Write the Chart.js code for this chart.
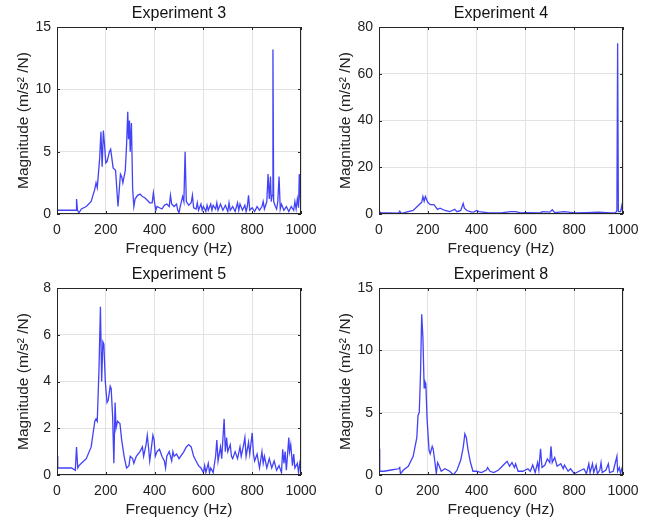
<!DOCTYPE html>
<html>
<head>
<meta charset="utf-8">
<script src="https://cdn.jsdelivr.net/npm/chart.js@4.4.0/dist/chart.umd.min.js"></script>
<style>
  body { margin: 0; background: #fff; }
  .panel { position: absolute; width: 325px; height: 258px; }
</style>
</head>
<body>
<div class="panel" style="left:0;top:0"><canvas id="c3"></canvas></div>
<div class="panel" style="left:322px;top:0"><canvas id="c4"></canvas></div>
<div class="panel" style="left:0;top:261px"><canvas id="c5"></canvas></div>
<div class="panel" style="left:322px;top:261px"><canvas id="c8"></canvas></div>
<script>
// Experiment 3
const freq3 = [0,5,40,78,80,84,90,100,120,140,155,160,165,175,180,185,190,195,200,205,215,220,230,240,250,260,265,270,280,285,290,293,297,300,305,310,315,320,330,340,350,360,370,380,390,395,400,405,410,420,430,440,450,460,465,470,480,490,495,500,505,510,515,520,525,530,540,550,555,560,570,575,580,590,595,600,610,615,620,630,635,640,650,655,660,670,680,690,700,705,710,720,730,740,745,750,760,770,775,780,785,790,800,810,820,830,840,845,850,860,865,870,875,878,882,885,888,895,900,905,910,915,920,930,940,950,960,970,975,980,985,990,993,996,1000];
const mag3 = [0.4,0.3,0.3,0.3,1.2,0.3,0.1,0.4,0.6,1.0,2.0,2.5,2.1,4.5,6.6,3.8,6.7,5.5,4.1,4.2,5.0,5.2,3.7,3.5,0.6,3.2,3.0,2.5,3.5,5.5,8.2,6.0,7.5,5.0,7.3,2.0,0.6,1.2,1.5,1.6,1.4,1.3,1.1,0.9,0.9,1.7,0.9,0.3,0.6,0.5,0.4,0.7,0.8,0.6,1.5,0.8,0.6,0.8,0.3,0.1,0.6,1.0,1.4,1.0,5.0,1.0,0.7,0.9,1.5,0.5,0.4,0.9,0.3,0.8,0.3,0.6,0.2,0.7,0.3,0.8,0.3,0.7,0.4,0.9,0.3,0.8,0.3,0.7,0.2,0.9,0.3,0.6,0.2,0.9,0.3,0.8,0.3,0.7,0.2,0.6,1.5,0.3,0.5,0.2,0.6,0.3,0.6,1.0,0.4,1.0,3.2,1.2,3.0,1.0,1.5,13.2,1.0,0.6,0.4,1.0,3.0,0.4,0.8,0.3,0.6,0.2,0.6,0.3,1.0,0.4,1.2,0.5,3.2,1.5,0.4];

// Experiment 4
const freq4 = [0,10,40,80,85,90,100,140,160,175,180,185,190,200,210,225,240,250,270,290,300,310,320,335,345,350,360,380,390,400,410,450,500,540,560,580,600,660,670,700,710,720,760,800,850,900,950,970,975,978,981,990,995,1000];
const mag4 = [1.0,0.5,0.5,0.4,1.2,0.4,0.5,1.5,3.5,5.0,7.5,5.5,7.5,5.0,4.0,4.0,2.0,2.5,1.5,1.0,1.5,2.0,1.0,1.5,4.5,2.5,1.5,0.8,0.9,1.5,1.0,0.5,0.5,1.0,1.0,0.5,0.6,0.5,1.0,0.8,1.8,0.6,1.0,0.5,0.6,0.8,0.5,0.6,1.5,73,1.0,1.0,3.5,0.5];

// Experiment 5
const freq5 = [0,3,20,60,75,80,85,90,100,120,140,155,160,165,172,178,183,188,192,198,205,210,218,222,228,233,238,242,248,258,265,275,285,295,300,310,315,325,340,350,355,365,370,375,380,385,393,398,403,410,420,430,440,445,450,460,470,475,480,490,500,520,530,540,550,560,570,580,590,600,605,610,620,625,630,640,650,655,660,670,675,685,690,695,700,710,715,720,730,740,750,755,765,770,775,785,790,800,805,810,820,830,840,845,850,860,870,880,890,900,910,920,925,930,935,940,950,953,958,965,970,975,985,990,995,1000];
const mag5 = [0.8,0.3,0.3,0.3,0.2,1.2,0.3,0.4,0.5,0.7,1.2,2.3,2.4,2.3,4.5,7.2,4.0,5.7,5.6,4.0,3.1,3.2,3.8,3.7,2.5,0.5,3.1,2.0,2.3,2.2,1.5,0.8,0.3,0.4,0.8,0.7,0.5,0.8,1.0,1.2,0.8,1.3,1.7,1.2,0.6,1.0,1.7,1.5,0.8,1.0,1.1,0.8,0.6,0.3,0.8,1.0,0.6,1.0,0.8,0.9,0.7,1.0,1.2,1.3,1.2,0.8,0.6,0.4,0.3,0.1,0.4,0.1,0.5,0.1,0.3,0.1,0.8,1.5,0.6,1.2,0.7,2.4,1.0,1.6,1.0,1.3,0.8,0.7,1.0,0.7,1.2,0.8,1.3,1.6,0.8,1.4,0.9,1.8,0.9,0.6,0.9,0.3,1.0,0.5,0.8,0.3,0.7,0.3,0.6,0.2,0.4,0.1,1.1,0.5,1.0,0.2,1.6,1.0,1.3,0.4,0.9,0.3,0.5,0.1,0.5,0.2];

// Experiment 8
const freq8 = [0,3,20,50,80,85,88,100,120,140,155,160,165,170,175,180,185,188,192,197,205,210,218,222,228,235,240,245,255,270,290,305,320,335,345,352,358,365,375,385,400,420,440,445,455,470,490,510,525,535,545,555,560,570,590,610,620,630,640,650,655,662,668,680,690,700,705,710,720,730,745,755,760,775,785,800,820,840,850,860,865,875,880,890,895,905,910,915,930,940,945,960,975,978,985,990,995,1000];
const mag8 = [2.1,0.3,0.3,0.4,0.5,0.6,0.1,0.4,0.7,1.5,3.0,4.8,5.0,8.0,12.9,11.0,7.0,7.5,7.3,4.5,2.0,1.7,2.3,2.1,1.2,0.1,1.0,0.8,0.3,0.5,0.3,0.0,0.4,1.2,2.2,3.3,3.0,2.0,1.0,0.3,0.3,0.2,0.4,0.6,0.3,0.2,0.4,0.8,1.1,0.7,1.0,0.6,0.9,0.3,0.3,0.5,0.3,0.8,0.2,1.0,0.4,2.1,0.6,0.8,1.3,1.0,2.3,1.0,1.4,0.7,0.9,0.5,0.8,0.3,0.5,0.1,0.3,0.5,0.1,0.9,0.2,0.9,0.2,0.8,0.1,0.4,1.0,0.2,0.4,0.9,0.2,0.3,1.5,0.3,0.6,0.1,0.5,0.2];

const xTicks = [0, 200, 400, 600, 800, 1000];
const font = "'Liberation Sans', Arial, sans-serif";

// MATLAB-like box, inward ticks and a title centred over the plot area
const boxPlugin = {
  id: 'box',
  afterDraw(chart, args, opts) {
    const a = chart.chartArea, c = chart.ctx;
    c.save();
    c.strokeStyle = '#262626';
    c.lineWidth = 1;
    c.strokeRect(a.left + 0.5, a.top + 0.5, a.right - a.left - 1, a.bottom - a.top - 1);
    c.beginPath();
    const xs = chart.scales.x, ys = chart.scales.y;
    xs.ticks.forEach(t => {
      const px = Math.round(xs.getPixelForValue(t.value)) + 0.5;
      c.moveTo(px, a.bottom); c.lineTo(px, a.bottom - 3);
      c.moveTo(px, a.top); c.lineTo(px, a.top + 3);
    });
    ys.ticks.forEach(t => {
      const py = Math.round(ys.getPixelForValue(t.value)) + 0.5;
      c.moveTo(a.left, py); c.lineTo(a.left + 3, py);
      c.moveTo(a.right, py); c.lineTo(a.right - 3, py);
    });
    c.stroke();
    c.fillStyle = '#111';
    c.font = '16px ' + font;
    c.textAlign = 'center';
    c.textBaseline = 'middle';
    c.fillText(opts.text, (a.left + a.right) / 2, 14);
    c.restore();
  }
};

function makeChart(id, title, freq, mag, yMax, yStep) {
  const pts = freq.map((f, i) => ({ x: f, y: mag[i] }));
  new Chart(document.getElementById(id), {
    type: 'scatter',
    data: {
      datasets: [{
        data: pts,
        showLine: true,
        borderColor: 'rgba(45,45,245,0.9)',
        borderWidth: 1.3,
        pointRadius: 0,
        tension: 0
      }]
    },
    options: {
      responsive: true,
      maintainAspectRatio: false,
      animation: false,
      layout: { padding: { left: 14, right: 24, top: 27, bottom: 0 } },
      plugins: {
        legend: { display: false },
        tooltip: { enabled: false },
        title: { display: false },
        box: { text: title }
      },
      scales: {
        x: {
          type: 'linear',
          min: 0, max: 1000,
          afterBuildTicks: s => { s.ticks = xTicks.map(v => ({ value: v })); },
          ticks: { color: '#222', font: { family: font, size: 14 }, maxRotation: 0, padding: 8, callback: v => String(v) },
          grid: { color: '#e2e2e2', drawTicks: false },
          border: { display: false },
          title: { display: true, text: 'Frequency (Hz)', color: '#222', font: { family: font, size: 15.5 }, padding: { top: 1, bottom: 0 } },
          afterFit: s => { s.height = 44; }
        },
        y: {
          min: 0, max: yMax,
          ticks: { stepSize: yStep, color: '#222', font: { family: font, size: 14 }, padding: 6 },
          grid: { color: '#e2e2e2', drawTicks: false },
          border: { display: false },
          title: { display: true, text: 'Magnitude (m/s\u00b2 /N)', color: '#222', font: { family: font, size: 15.5 }, padding: { top: 0, bottom: 0 } },
          afterFit: s => { s.width = 43; }
        }
      }
    },
    plugins: [boxPlugin]
  });
}

makeChart('c3', 'Experiment 3', freq3, mag3, 15, 5);
makeChart('c4', 'Experiment 4', freq4, mag4, 80, 20);
makeChart('c5', 'Experiment 5', freq5, mag5, 8, 2);
makeChart('c8', 'Experiment 8', freq8, mag8, 15, 5);
</script>
</body>
</html>
